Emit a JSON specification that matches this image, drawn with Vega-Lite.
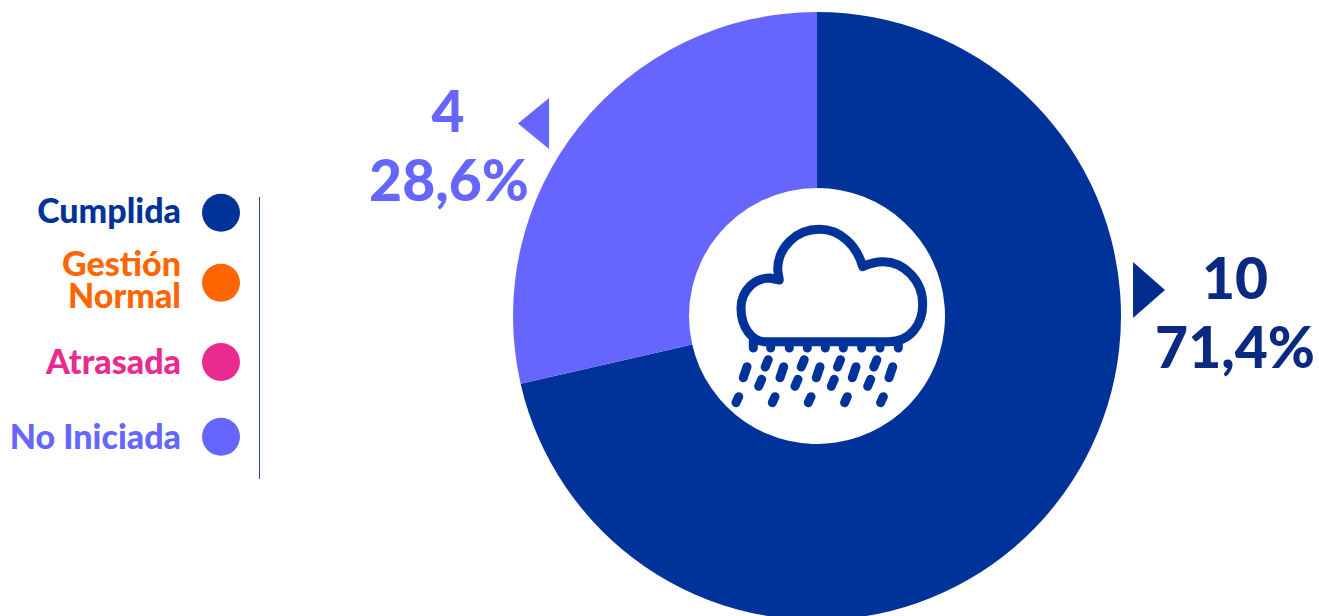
{
"$schema":"https://vega.github.io/schema/vega-lite/v6.json",
"width":1319,"height":616,"autosize":{"type":"none"},"padding":0,"background":"white",
"config":{"view":{"stroke":null},"axis":{"disable":true}},
"datasets":{"estados":[
{"estado":"Cumplida","valor":10,"porcentaje":"71,4%"},
{"estado":"Gestión Normal","valor":0,"porcentaje":"0%"},
{"estado":"Atrasada","valor":0,"porcentaje":"0%"},
{"estado":"No Iniciada","valor":4,"porcentaje":"28,6%"}],
"icono":[{"elemento":"lluvia"}],
"separador":[{"elemento":"separador"}]},
"data":{"name":"estados"},
"resolve":{"scale":{"x":"independent","y":"independent","color":"independent","theta":"independent"}},
"layer":[
{"mark":{"type":"arc","outerRadius":304,"innerRadius":128},
 "transform":[{"filter":"datum.valor > 0"}],
 "encoding":{
  "theta":{"field":"valor","type":"quantitative","stack":true,"scale":{"domain":[0,14],"range":[0,6.283185]}},
  "order":{"field":"valor","sort":"descending"},
  "x":{"datum":"centro","type":"nominal","scale":{"type":"point","domain":["centro"],"range":[817,817],"padding":0},"axis":null},
  "y":{"datum":"centro","type":"nominal","scale":{"type":"point","domain":["centro"],"range":[316,316],"padding":0},"axis":null},
  "color":{"field":"estado","type":"nominal","scale":{"domain":["Cumplida","No Iniciada"],"range":["#003399","#6666FF"]},"legend":null}}},
{"data":{"name":"icono"},
 "mark":{"type":"point","filled":false,"opacity":1,"size":40000,"stroke":"#003399","strokeWidth":9,"strokeCap":"round","strokeJoin":"round",
 "shape":"M-.67 .257L.563 .257C.78 .257 .907 .09 .907 -.12C.907 -.36 .713 -.543 .513 -.543C.447 -.543 .38 -.527 .307 -.493C.247 -.71 .08 -.867 -.127 -.867C-.353 -.867 -.543 -.693 -.543 -.46L-.527 -.36L-.62 -.38C-.77 -.38 -.91 -.26 -.91 -.077C-.91 .107 -.803 .257 -.67 .257ZM-.787 .25L-.787 .32M-.613 .26L-.613 .32M-.427 .26L-.427 .32M-.247 .26L-.247 .32M-.067 .26L-.067 .32M.113 .26L.113 .32M.297 .26L.297 .32M.48 .26L.48 .32M.663 .25L.663 .32M-.638 .437l-.03 .073M-.278 .437l-.03 .073M.085 .437l-.03 .073M.448 .437l-.03 .073M-.85 .507l-.037 .11M-.483 .507l-.037 .11M-.12 .507l-.037 .11M.24 .507l-.037 .11M.607 .507l-.037 .11M-.703 .633l-.03 .07M-.34 .633l-.03 .07M.023 .633l-.03 .07M.387 .633l-.03 .07M-.933 .807l-.027 .06M-.57 .807l-.027 .06M-.21 .807l-.027 .06M.153 .807l-.027 .06M.513 .807l-.027 .06"},
 "encoding":{
  "x":{"field":"elemento","type":"nominal","scale":{"type":"point","domain":["lluvia"],"range":[832,832],"padding":0},"axis":null},
  "y":{"field":"elemento","type":"nominal","scale":{"type":"point","domain":["lluvia"],"range":[316,316],"padding":0},"axis":null}}},
{"mark":{"type":"point","filled":true,"opacity":1,"size":3136,"shape":"M-.57 -1L.57 0L-.57 1Z"},
 "transform":[{"filter":"datum.estado === 'Cumplida'"}],
 "encoding":{
  "x":{"field":"estado","type":"nominal","scale":{"type":"point","domain":["Cumplida"],"range":[1149,1149],"padding":0},"axis":null},
  "y":{"field":"estado","type":"nominal","scale":{"type":"point","domain":["Cumplida"],"range":[290,290],"padding":0},"axis":null},
  "color":{"field":"estado","type":"nominal","scale":{"domain":["Cumplida"],"range":["#002D8C"]},"legend":null}}},
{"mark":{"type":"point","filled":true,"opacity":1,"size":2601,"shape":"M.61 -1L-.61 0L.61 1Z"},
 "transform":[{"filter":"datum.estado === 'No Iniciada'"}],
 "encoding":{
  "x":{"field":"estado","type":"nominal","scale":{"type":"point","domain":["No Iniciada"],"range":[533.5,533.5],"padding":0},"axis":null},
  "y":{"field":"estado","type":"nominal","scale":{"type":"point","domain":["No Iniciada"],"range":[123.5,123.5],"padding":0},"axis":null},
  "color":{"field":"estado","type":"nominal","scale":{"domain":["No Iniciada"],"range":["#6666FF"]},"legend":null}}},
{"mark":{"type":"text","font":"Lato","fontWeight":900,"fontSize":57,"align":"center","baseline":"middle"},
 "transform":[{"filter":"datum.valor > 0"}],
 "encoding":{
  "text":{"field":"valor","type":"nominal"},
  "x":{"field":"estado","type":"nominal","scale":{"type":"point","domain":["No Iniciada","Cumplida"],"range":[448,1235],"padding":0},"axis":null},
  "y":{"field":"estado","type":"nominal","scale":{"type":"point","domain":["No Iniciada","Cumplida"],"range":[115,282],"padding":0},"axis":null},
  "color":{"field":"estado","type":"nominal","scale":{"domain":["Cumplida","No Iniciada"],"range":["#0A2A82","#6666FF"]},"legend":null}}},
{"mark":{"type":"text","font":"Lato","fontWeight":900,"fontSize":57,"align":"center","baseline":"middle"},
 "transform":[{"filter":"datum.valor > 0"}],
 "encoding":{
  "text":{"field":"porcentaje","type":"nominal"},
  "x":{"field":"estado","type":"nominal","scale":{"type":"point","domain":["No Iniciada","Cumplida"],"range":[449,1235],"padding":0},"axis":null},
  "y":{"field":"estado","type":"nominal","scale":{"type":"point","domain":["No Iniciada","Cumplida"],"range":[184,351],"padding":0},"axis":null},
  "color":{"field":"estado","type":"nominal","scale":{"domain":["Cumplida","No Iniciada"],"range":["#0A2A82","#6666FF"]},"legend":null}}},
{"mark":{"type":"point","filled":true,"opacity":1,"size":1444},
 "transform":[{"filter":"datum.estado !== 'Gestión Normal'"}],
 "encoding":{
  "x":{"field":"estado","type":"nominal","scale":{"type":"point","domain":["Cumplida","Gestión Normal","Atrasada","No Iniciada"],"range":[221,221],"padding":0},"axis":null},
  "y":{"field":"estado","type":"nominal","scale":{"type":"point","domain":["Cumplida","Gestión Normal","Atrasada","No Iniciada"],"range":[212.7,436.7],"padding":0},"axis":null},
  "color":{"field":"estado","type":"nominal","scale":{"domain":["Cumplida","Atrasada","No Iniciada"],"range":["#003399","#E92A8E","#6666FF"]},"legend":null}}},
{"mark":{"type":"point","filled":true,"opacity":1,"size":1444,"color":"#FF6600"},
 "transform":[{"filter":"datum.estado === 'Gestión Normal'"}],
 "encoding":{
  "x":{"field":"estado","type":"nominal","scale":{"type":"point","domain":["Gestión Normal"],"range":[221,221],"padding":0},"axis":null},
  "y":{"field":"estado","type":"nominal","scale":{"type":"point","domain":["Gestión Normal"],"range":[282.7,282.7],"padding":0},"axis":null}}},
{"mark":{"type":"text","font":"Lato","fontWeight":900,"fontSize":34,"align":"right","baseline":"middle"},
 "transform":[{"filter":"datum.estado !== 'Gestión Normal'"}],
 "encoding":{
  "text":{"field":"estado","type":"nominal"},
  "x":{"field":"estado","type":"nominal","scale":{"type":"point","domain":["Cumplida","Gestión Normal","Atrasada","No Iniciada"],"range":[181,181],"padding":0},"axis":null},
  "y":{"field":"estado","type":"nominal","scale":{"type":"point","domain":["Cumplida","Gestión Normal","Atrasada","No Iniciada"],"range":[213,439],"padding":0},"axis":null},
  "color":{"field":"estado","type":"nominal","scale":{"domain":["Cumplida","Atrasada","No Iniciada"],"range":["#003399","#E92A8E","#6666FF"]},"legend":null}}},
{"mark":{"type":"text","font":"Lato","fontWeight":900,"fontSize":34,"align":"right","baseline":"middle","lineBreak":" ","lineHeight":32,"color":"#FF6600"},
 "transform":[{"filter":"datum.estado === 'Gestión Normal'"}],
 "encoding":{
  "text":{"field":"estado","type":"nominal"},
  "x":{"field":"estado","type":"nominal","scale":{"type":"point","domain":["Gestión Normal"],"range":[181,181],"padding":0},"axis":null},
  "y":{"field":"estado","type":"nominal","scale":{"type":"point","domain":["Gestión Normal"],"range":[266,266],"padding":0},"axis":null}}},
{"data":{"name":"separador"},
 "mark":{"type":"rule","color":"#2F4A7A","strokeWidth":1},
 "encoding":{
  "x":{"field":"elemento","type":"nominal","scale":{"type":"point","domain":["separador"],"range":[259.5,259.5],"padding":0},"axis":null},
  "y":{"datum":"inicio","type":"nominal","scale":{"type":"point","domain":["inicio","fin"],"range":[197,479],"padding":0},"axis":null},
  "y2":{"datum":"fin"}}}
]}
